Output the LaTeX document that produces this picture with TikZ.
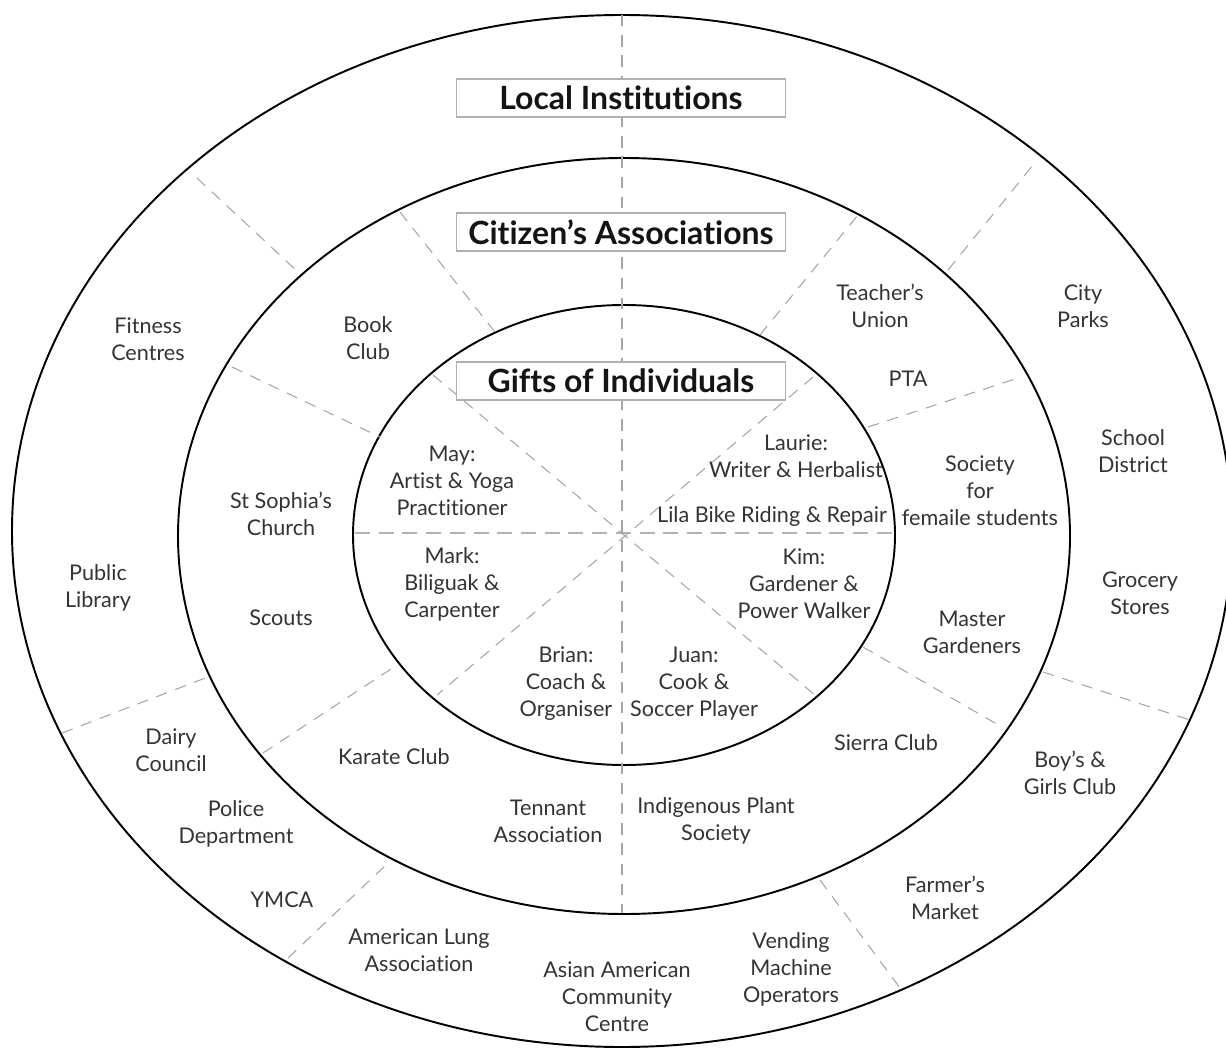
\documentclass[tikz,border=0pt]{standalone}
\usepackage{fontspec}
\setmainfont{Lato}[Ligatures=NoCommon]
\definecolor{labelgray}{HTML}{333333}
\definecolor{dashgray}{HTML}{A5A5A5}
\definecolor{boxgray}{HTML}{B0B0B0}

\begin{document}
\begin{tikzpicture}[
    x=0.02cm, y=-0.02cm,
    ring/.style={draw=black, line width=1.1pt},
    divider/.style={draw=dashgray, line width=0.6pt, dash pattern=on 6.5pt off 5pt},
    midline/.style={draw=dashgray!85, line width=1.3pt, dash pattern=on 8.5pt off 5pt},
    title/.style={rectangle, draw=boxgray, fill=white, line width=0.7pt, minimum width=6.58cm, minimum height=0.76cm, inner sep=0pt, font=\fontsize{18.2}{20}\selectfont\bfseries, text=black!92},
    item/.style={align=center, text=labelgray, inner sep=0pt, font=\fontsize{12.3}{15.4}\selectfont}
]
\clip (0,0) rectangle (1226,1050);

% Rings
\draw[ring] (622,531) ellipse [x radius=610, y radius=516];
\draw[ring] (624,536) ellipse [x radius=446, y radius=378];
\draw[ring] (624,535) ellipse [x radius=271, y radius=230];

% Dividers
\draw[divider] (622,15) -- (622,913);
\draw[midline] (355,533) -- (893,533);
\draw[divider] (433,375) -- (815,695);
\draw[divider] (813,377) -- (437,695);

\draw[divider] (400,212) -- (495,332);
\draw[divider] (232,367) -- (380,437);
\draw[divider] (760,335) -- (858,215);
\draw[divider] (868,427) -- (1018,378);
\draw[divider] (263,753) -- (397,665);
\draw[divider] (863,647) -- (1002,727);

\draw[divider] (197,178) -- (298,272);
\draw[divider] (948,270) -- (1033,165);
\draw[divider] (62,733) -- (208,677);
\draw[divider] (288,958) -- (388,863);
\draw[divider] (820,880) -- (903,992);
\draw[divider] (1043,672) -- (1190,720);

% Titles
\node[title] (local) at (621,98) {Local Institutions};
\node[title] (citizen) at (621,232) {Citizen’s Associations};
\node[title] (gifts) at (621,381) {Gifts of Individuals};

% Local institutions
\node[item] (fitness) at (148,339) {Fitness\\Centres};
\node[item] (library) at (98,588) {Public\\Library};
\node[item] (dairy) at (171,750) {Dairy\\Council};
\node[item] (police) at (236,824) {Police\\Department};
\node[item] (ymca) at (282,900) {YMCA};
\node[item] (lung) at (419,950) {American Lung\\Association};
\node[item] (asian) at (617,997) {Asian American\\Community\\Centre};
\node[item] (vending) at (791,969) {Vending\\Machine\\Operators};
\node[item] (farmer) at (945,898) {Farmer’s\\Market};
\node[item] (boys) at (1070,773) {Boy’s \&\\Girls Club};
\node[item] (grocery) at (1140,593) {Grocery\\Stores};
\node[item] (school) at (1133,451) {School\\District};
\node[item] (parks) at (1083,306) {City\\Parks};

% Citizen's associations
\node[item] (book) at (368,338) {Book\\Club};
\node[item] (church) at (281,514) {St Sophia’s\\Church};
\node[item] (scouts) at (281,618) {Scouts};
\node[item] (karate) at (394,757) {Karate Club};
\node[item] (tennant) at (548,821) {Tennant\\Association};
\node[item] (plant) at (716,821) {Indigenous Plant\\Society};
\node[item] (sierra) at (886,743) {Sierra Club};
\node[item] (master) at (972,632) {Master\\Gardeners};
\node[item] (society) at (980,491) {Society\\for\\femaile students};
\node[item] (pta) at (908,379) {PTA};
\node[item] (teacher) at (880,306) {Teacher’s\\Union};

% Gifts of individuals
\node[item] (may) at (452,481) {May:\\Artist \& Yoga\\Practitioner};
\node[item] (laurie) at (796,456) {Laurie:\\Writer \& Herbalist};
\node[item] (lila) at (772,517) {Lila Bike Riding \& Repair};
\node[item] (mark) at (452,584) {Mark:\\Biliguak \&\\Carpenter};
\node[item] (kim) at (804,584) {Kim:\\Gardener \&\\Power Walker};
\node[item] (brian) at (566,684) {Brian:\\Coach \&\\Organiser};
\node[item] (juan) at (694,684) {Juan:\\Cook \&\\Soccer Player};

\end{tikzpicture}
\end{document}
